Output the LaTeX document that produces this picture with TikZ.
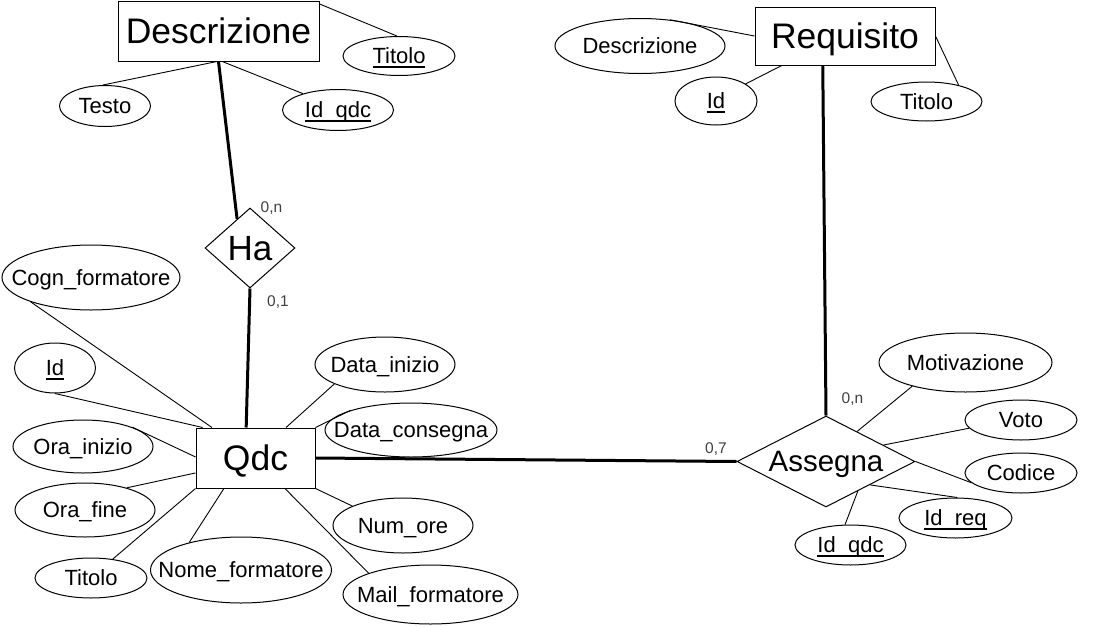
\documentclass[tikz,border=0pt]{standalone}
\usepackage{fontspec}
\setmainfont{Liberation Sans}
\usetikzlibrary{shapes.geometric}

\newsavebox\txtbox
\newsavebox\keybox
% underlined key attribute
\newcommand\keyattr[1]{\sbox\keybox{#1}\rlap{\rule[-4pt]{\wd\keybox}{1.9pt}}\usebox\keybox}

\begin{document}
\begin{tikzpicture}[x=1pt, y=-1pt,
    zerow/.style={execute at begin node={\setbox\txtbox=\hbox\bgroup},
        execute at end node={\egroup\hbox to 0pt{\hss\box\txtbox\hss}}},
    entity/.style={draw, rectangle, line width=1pt, inner sep=0pt, zerow,
        font=\fontsize{35.5}{40}\selectfont, text height=31.5pt, text depth=7pt},
    relation/.style={draw, diamond, line width=1pt, inner sep=0pt, zerow, aspect=2},
    attr/.style={draw, ellipse, line width=1pt, inner sep=0pt, zerow,
        font=\fontsize{22}{26}\selectfont, text height=19.6pt, text depth=4.2pt},
    card/.style={inner sep=0pt, text=black!75, font=\fontsize{15.5}{18}\selectfont},
    link/.style={line width=\linkWidth},
    bold link/.style={line width=\boldWidth}]

    \def\linkWidth{0.9pt}
    \def\boldWidth{3pt}

    \useasboundingbox (0,0) rectangle (1096,627);

    % entities
    \node[entity, minimum width=201pt, minimum height=60pt] (desc) at (218.5,31) {Descrizione};
    \node[entity, minimum width=180pt, minimum height=58pt] (req) at (845,36) {Requisito};
    \node[entity, minimum width=119pt, minimum height=60pt] (qdc) at (255.5,458) {Qdc};

    % relations
    \node[relation, minimum width=90pt, minimum height=80pt,
        font=\fontsize{35}{40}\selectfont, text height=31.5pt, text depth=7pt] (ha) at (250,248) {Ha};
    \node[relation, minimum width=178pt, minimum height=91pt,
        font=\fontsize{29.5}{34}\selectfont, text height=26.5pt, text depth=5.9pt] (assegna) at (826,461.5) {Assegna};

    % attributes of Descrizione
    \node[attr, minimum width=112pt, minimum height=39pt] (dTitolo) at (399,56) {\keyattr{Titolo}};
    \node[attr, minimum width=91pt, minimum height=41pt] (dTesto) at (105,106) {Testo};
    \node[attr, minimum width=111pt, minimum height=41pt] (dIdQdc) at (338,110) {\keyattr{Id\_qdc}};

    % attributes of Requisito
    \node[attr, minimum width=170pt, minimum height=55pt] (rDesc) at (640,46) {Descrizione};
    \node[attr, minimum width=82pt, minimum height=48pt] (rId) at (716,101) {\keyattr{Id}};
    \node[attr, minimum width=111pt, minimum height=39pt] (rTitolo) at (926.5,101.5) {Titolo};

    % attributes of Qdc
    \node[attr, minimum width=178pt, minimum height=65pt] (cogn) at (91,277.5) {Cogn\_formatore};
    \node[attr, minimum width=81pt, minimum height=50pt] (qId) at (55,368) {\keyattr{Id}};
    \node[attr, minimum width=140pt, minimum height=53pt] (oraInizio) at (83,446.5) {Ora\_inizio};
    \node[attr, minimum width=140pt, minimum height=54pt] (oraFine) at (85,510) {Ora\_fine};
    \node[attr, minimum width=112pt, minimum height=40pt] (qTitolo) at (91,578) {Titolo};
    \node[attr, minimum width=181pt, minimum height=66pt] (nome) at (241,570) {Nome\_formatore};
    \node[attr, minimum width=175pt, minimum height=59pt] (mail) at (430.5,594.5) {Mail\_formatore};
    \node[attr, minimum width=140pt, minimum height=55pt] (numOre) at (403,525.5) {Num\_ore};
    \node[attr, minimum width=140pt, minimum height=55pt] (dataInizio) at (385,364.5) {Data\_inizio};
    \node[attr, minimum width=172pt, minimum height=54pt] (dataConsegna) at (411,430) {Data\_consegna};

    % attributes of Assegna
    \node[attr, minimum width=173pt, minimum height=59pt] (motiv) at (965.5,362.5) {Motivazione};
    \node[attr, minimum width=112pt, minimum height=40pt] (voto) at (1021,420) {Voto};
    \node[attr, minimum width=112pt, minimum height=40pt] (codice) at (1021,473) {Codice};
    \node[attr, minimum width=113pt, minimum height=40pt] (idReq) at (955.5,518) {\keyattr{Id\_req}};
    \node[attr, minimum width=111pt, minimum height=40pt] (aIdQdc) at (850.5,545) {\keyattr{Id\_qdc}};

    % cardinalities
    \node[card] (cardDesc) at (271.5,208) {0,n};
    \node[card] (cardHaQdc) at (278,302) {0,1};
    \node[card] (cardQdc) at (716,449) {0,7};
    \node[card] (cardReq) at (852.5,399) {0,n};

    % Descrizione links
    \draw[link] (desc.15) -- (dTitolo.96);
    \draw[link] (desc.267) -- (dTesto.96);
    \draw[link] (desc.277) -- (dIdQdc.155);
    \draw[bold link] (desc.south) -- (ha.114);
    \draw[bold link] (ha.south) -- (qdc.107);

    % Qdc links
    \draw[link] (qdc.145) -- (cogn.202);
    \draw[link] (qdc.150) -- (qId.270);
    \draw[link] (qdc.179) -- (oraInizio.21);
    \draw[link] (qdc.194) -- (oraFine.28);
    \draw[link] (qdc.south west) -- (qTitolo.41);
    \draw[link] (qdc.224) -- (nome.152);
    \draw[link] (qdc.314) -- (mail.161);
    \draw[link] (qdc.south east) -- (numOre.159);
    \draw[link] (qdc.45) -- (dataInizio.201);
    \draw[link] (qdc.north east) -- (dataConsegna.162);
    \draw[bold link] (qdc.east) -- (assegna.west);

    % Requisito links
    \draw[bold link] (req.233) -- (assegna.north);
    \draw[link] (req.west) -- (rDesc.41);
    \draw[link] (req.205) -- (rId.30);
    \draw[link] (req.east) -- (rTitolo.27);

    % Assegna links
    \draw[link] (assegna.44) -- (motiv.204);
    \draw[link] (assegna.16) -- (voto.189);
    \draw[link] (assegna.east) -- (codice.191);
    \draw[link] (assegna.332) -- (idReq.85);
    \draw[link] (assegna.317) -- (aIdQdc.105);

\end{tikzpicture}
\end{document}
